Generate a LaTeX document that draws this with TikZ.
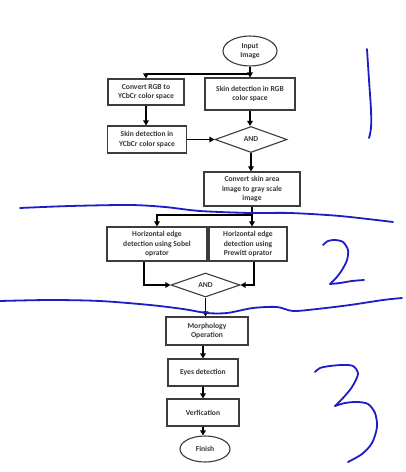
\documentclass[tikz,border=0pt]{standalone}
\usepackage{fontspec}
\setmainfont{Carlito}
\usetikzlibrary{arrows.meta,shapes.geometric}
\definecolor{boxline}{HTML}{3C3C3C}
\definecolor{txt}{HTML}{383838}
\definecolor{ink}{RGB}{28,28,200}
\begin{document}
\begin{tikzpicture}[x=1pt,y=-1pt,
  every node/.style={font=\fontsize{7.6}{9.5}\selectfont\bfseries, text=txt, align=center, inner sep=0pt},
  procbox/.style={draw=boxline, line width=1.1pt, rectangle},
  termin/.style={draw=boxline, line width=1.1pt, ellipse},
  gate/.style={draw=boxline, line width=1.1pt, diamond},
  flow/.style={line width=1.6pt, -{Triangle[length=5pt,width=5.5pt]}},
  plain/.style={line width=1.6pt},
  pen/.style={draw=ink, line width=1.8pt, line cap=round, line join=round}]

\useasboundingbox[fill=white] (0,0) rectangle (405,472);

% ---- flowchart nodes ----
\node[termin, minimum width=54pt, minimum height=30pt] (start) at (250,51) {Input\\Image};
\node[procbox, minimum width=76pt, minimum height=26pt] (conv) at (146,92) {Convert RGB to\\YCbCr color space};
\node[procbox, minimum width=90pt, minimum height=32pt] (rgb) at (250,94) {Skin detection in RGB\\color space};
\node[procbox, minimum width=79pt, minimum height=27pt] (ycc) at (147,139.5) {Skin detection in\\YCbCr color space};
\node[gate, minimum width=72pt, minimum height=26pt] (and1) at (251,139.5) {AND};
\node[procbox, minimum width=96pt, minimum height=34pt] (gray) at (252,189) {Convert skin area\\image to gray scale\\image};
\node[procbox, minimum width=100pt, minimum height=34pt] (sobel) at (157,244) {Horizontal edge\\detection using Sobel\\oprator};
\node[procbox, minimum width=78pt, minimum height=34pt] (prew) at (248,244) {Horizontal edge\\detection using\\Prewitt oprator};
\node[gate, minimum width=69pt, minimum height=24pt] (and2) at (205.5,285) {AND};
\node[procbox, minimum width=82pt, minimum height=28pt] (morph) at (207,331) {Morphology\\Operation};
\node[procbox, minimum width=70pt, minimum height=27pt] (eyes) at (203,372.5) {Eyes detection};
\node[procbox, minimum width=72pt, minimum height=27pt] (verif) at (203,412.5) {Verfication};
\node[termin, minimum width=50pt, minimum height=26pt] (finish) at (205,449) {Finish};

% ---- branch points ----
\coordinate (fork1) at (250,74);
\coordinate (fork2) at (252,215);

% ---- connectors ----
\draw[flow] (start.south) -- (rgb.north);
\draw[flow] (fork1) -| (conv.north);
\draw[flow] (conv.south) -- (conv.south |- ycc.north);
\draw[flow] (ycc.east) -- (and1.west);
\draw[flow] (rgb.south) -- (rgb.south |- and1.north);
\draw[flow] (and1.south) -- (and1.south |- gray.north);
\draw[plain] (gray.south) -- (fork2);
\draw[flow] (fork2) -| (sobel.north);
\draw[flow] (fork2) -- (fork2 |- prew.north);
\draw[flow] ([xshift=-13pt]sobel.south) |- (and2.west);
\draw[flow] ([xshift=6pt]prew.south) |- (and2.east);
\draw[flow] (and2.south) -- (and2.south |- morph.north);
\draw[flow] (morph.south -| eyes.north) -- (eyes.north);
\draw[flow] (eyes.south) -- (eyes.south |- verif.north);
\draw[flow] (verif.south) -- (verif.south |- finish.north);

% ---- pen marks: section dividers and numbers ----
\draw[pen] plot[smooth] coordinates {(20,208) (70,206) (130,205) (165,207) (200,211) (250,213) (290,213) (340,216) (393,222)};
\draw[pen] plot[smooth] coordinates {(0,301) (50,300) (100,301) (150,305) (183,309) (207,313) (227,313) (253,308) (277,307) (293,311) (317,309) (350,305) (383,300) (402,298)};
\draw[pen] plot[smooth] coordinates {(367,49) (369,80) (371,110) (371,128) (369,138)};
\draw[pen] plot[smooth] coordinates {(323,245) (328,241) (335,240) (343,242) (348,250) (347,260) (342,270) (336,278) (330,284)};
\draw[pen] plot[smooth] coordinates {(330,284) (340,283) (352,281) (364,280)};
\draw[pen] plot[smooth] coordinates {(315,372) (320,368) (330,366) (342,365) (353,366) (358,374) (352,387) (343,398) (335,406)};
\draw[pen] plot[smooth] coordinates {(335,406) (345,403) (357,402) (368,404) (375,413) (377,427) (372,443) (362,454) (348,462)};
\end{tikzpicture}
\end{document}
